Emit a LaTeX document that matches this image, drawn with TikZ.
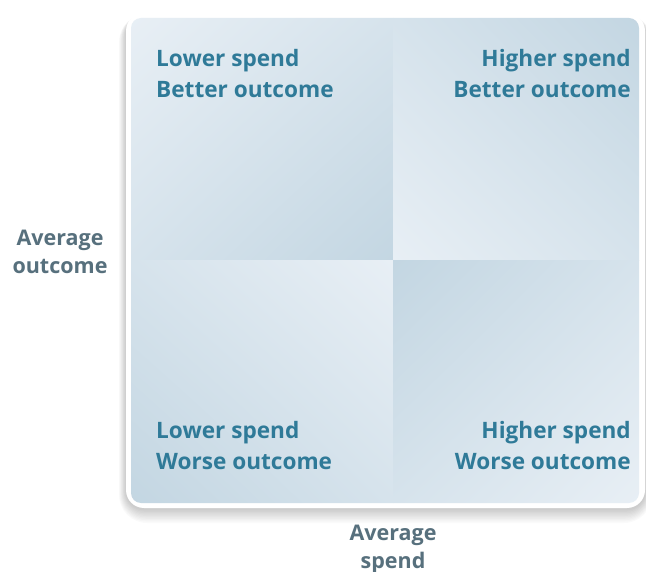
\documentclass[tikz,border=0pt]{standalone}
\usepackage{fontspec}
\setmainfont{Open Sans}
\usetikzlibrary{positioning,shadings}
\definecolor{qtext}{HTML}{2F7A98}
\definecolor{atext}{HTML}{57707D}
\definecolor{qlight}{HTML}{E8EFF5}
\definecolor{qmid}{HTML}{D6E3EC}
\definecolor{qdark}{HTML}{C3D6E2}
\tikzset{
  quadlabel/.style={text=qtext, font=\fontsize{22.6}{31}\selectfont\bfseries, inner sep=0pt, align=#1},
  axislabel/.style={text=atext, font=\fontsize{21.5}{28}\selectfont\bfseries, inner sep=0pt, align=center},
}
\begin{document}
\begin{tikzpicture}[x=1pt,y=-1pt]
\useasboundingbox (0,0) rectangle (646,572);
\fill[white] (0,0) rectangle (646,572);
% soft shadow
\foreach \i in {1,...,10}{
  \fill[black, opacity=0.02, rounded corners=18+\i] (126-\i*0.7,13-\i*0.2+3) rectangle (645+\i*0.7,508+\i*1.4+1);
}
% outer white frame
\fill[white, rounded corners=18] (126,13) rectangle (645,508);
% quadrants
\begin{scope}
\clip[rounded corners=10] (131,18) rectangle (639,503);
\shade[upper left=qlight, upper right=qmid, lower left=qmid, lower right=qdark] (131,18) rectangle (393,261);
\shade[upper left=qmid, upper right=qdark, lower left=qlight, lower right=qmid] (393,18) rectangle (639,261);
\shade[upper left=qmid, upper right=qlight, lower left=qdark, lower right=qmid] (131,261) rectangle (393,503);
\shade[upper left=qdark, upper right=qmid, lower left=qmid, lower right=qlight] (393,261) rectangle (639,503);
\end{scope}
% labels
\node[quadlabel=left, anchor=north west] (tl) at (156,49) {Lower spend\\Better outcome};
\node[quadlabel=right, anchor=north east] (tr) at (631,49) {Higher spend\\Better outcome};
\node[quadlabel=left, anchor=north west] (bl) at (156,421) {Lower spend\\Worse outcome};
\node[quadlabel=right, anchor=north east] (br) at (631,421) {Higher spend\\Worse outcome};
\node[axislabel, anchor=north] (yaxis) at (60,230) {Average\\outcome};
\node[axislabel, anchor=north] (xaxis) at (393,525) {Average\\spend};
\end{tikzpicture}
\end{document}
